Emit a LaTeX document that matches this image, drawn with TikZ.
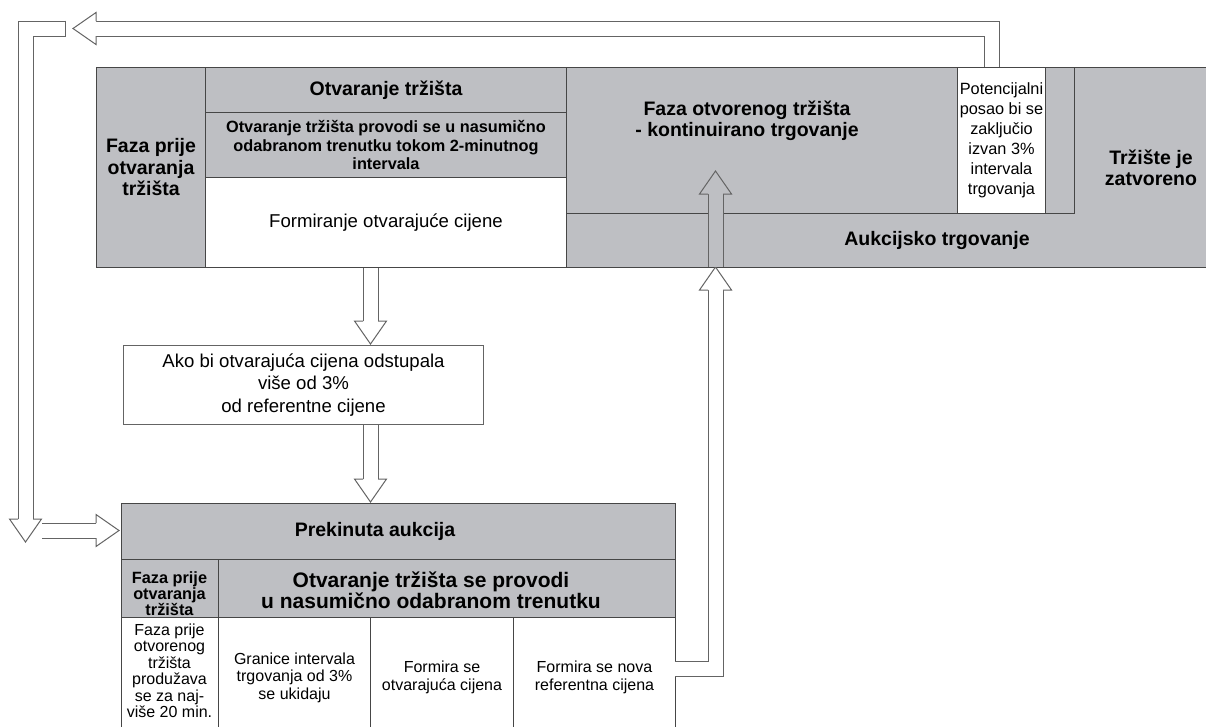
\documentclass[tikz,border=0pt]{standalone}
\usepackage{fontspec}
\setmainfont{Liberation Sans}
\usetikzlibrary{calc}

\definecolor{bandgray}{RGB}{190,191,195}
\definecolor{rule}{RGB}{70,70,70}
\definecolor{arrowgray}{RGB}{100,100,100}

\newcommand{\txtbig}{\fontsize{19.5}{21.5}\selectfont\bfseries}
\newcommand{\txtsub}{\fontsize{16.3}{18.5}\selectfont\bfseries}
\newcommand{\txtreg}{\fontsize{18.6}{22.5}\selectfont}
\newcommand{\txtsmall}{\fontsize{16}{17.5}\selectfont}
\newcommand{\txttight}{\fontsize{16}{16.5}\selectfont}
\newcommand{\txtpot}{\fontsize{16.3}{20}\selectfont}
\newcommand{\txtsmallb}{\fontsize{16.3}{15.5}\selectfont\bfseries}
\newcommand{\txtwide}{\fontsize{21}{18.5}\selectfont\bfseries}

\begin{document}
\begin{tikzpicture}[x=1pt, y=-1pt,
    cell/.style={draw=rule, line width=1pt, fill=bandgray, anchor=north west, inner sep=0pt, align=center},
    whitecell/.style={cell, fill=white},
    txt/.style={align=center, inner sep=0pt},
    shaft/.style={draw=arrowgray, line width=1pt, double=white, double distance=14pt},
    headline/.style={draw=arrowgray, line width=1pt, fill=white},
    head/.pic={\path[pic actions] (-23,7.5) -- (-23,16) -- (0,0) -- (-23,-16) -- (-23,-7.5);}
  ]
  \useasboundingbox[fill=white] (0,0) rectangle (1206,726);

  % upper band
  \node[cell, minimum width=1112, minimum height=200] (band) at (96,67) {};
  \node[cell, minimum width=109, minimum height=200, font=\txtbig] (pre) at (96,67) {Faza prije\\otvaranja\\tržišta};
  \node[cell, minimum width=361, minimum height=45, font=\txtbig] (open) at (205,67) {Otvaranje tržišta};
  \node[cell, minimum width=361, minimum height=65, font=\txtsub] (openrule) at (205,112) {Otvaranje tržišta provodi se u nasumično\\odabranom trenutku tokom 2-minutnog\\intervala};
  \node[whitecell, minimum width=361, minimum height=90, font=\txtreg] (form) at (205,177) {Formiranje otvarajuće cijene};
  \node[cell, minimum width=508, minimum height=146] (cont) at (566,67) {};
  \node[whitecell, minimum width=88, minimum height=146, font=\txtpot] (pot) at (957,67) {Potencijalni\\posao bi se\\zaključio\\izvan 3\%\\intervala\\trgovanja};
  \node[txt, font=\txtbig] (conttext) at (747,121) {Faza otvorenog tržišta\\- kontinuirano trgovanje};
  \node[txt, font=\txtbig] (auction) at (937,240) {Aukcijsko trgovanje};
  \node[txt, font=\txtbig] (closed) at (1151,168) {Tržište je\\zatvoreno};

  % condition
  \node[whitecell, draw=arrowgray, minimum width=360, minimum height=79, font=\txtreg] (ako) at (123,345) {Ako bi otvarajuća cijena odstupala\\više od 3\%\\od referentne cijene};

  % interrupted auction
  \node[cell, minimum width=554, minimum height=56] (halt) at (121,503) {};
  \node[txt, font=\txtbig] (halttext) at (375,531) {Prekinuta aukcija};
  \node[cell, minimum width=97, minimum height=58] (hpre) at (121,559) {};
  \node[txt, font=\txtsmallb] (hpretext) at (169.5,594) {Faza prije\\otvaranja\\tržišta};
  \node[cell, minimum width=457, minimum height=58] (hopen) at (218,559) {};
  \node[txt, font=\txtwide] (hopentext) at (431,590) {Otvaranje tržišta se provodi\\u nasumično odabranom trenutku};
  \node[whitecell, minimum width=97, minimum height=124] (extend) at (121,617) {};
  \node[txt, font=\txttight] (extendtext) at (169.5,671) {Faza prije\\otvorenog\\tržišta\\produžava\\se za naj-\\više 20 min.};
  \node[whitecell, minimum width=152, minimum height=120, font=\txtsmall] (limits) at (218,617) {Granice intervala\\trgovanja od 3\%\\se ukidaju};
  \node[whitecell, minimum width=143, minimum height=120, font=\txtsmall] (price) at (370,617) {Formira se\\otvarajuća cijena};
  \node[whitecell, minimum width=162, minimum height=120, font=\txtsmall] (refprice) at (513,617) {Formira se nova\\referentna cijena};

  % feedback arrows
  \coordinate (fbtip) at (73,28.5);
  \draw[shaft] ([xshift=-10pt]pot.north) |- ($(fbtip)+(23,0)$);
  \pic[headline, rotate=180] at (fbtip) {head};

  \coordinate (wall) at (65,28.5);
  \coordinate (lefttip) at (25.5,542);
  \draw[shaft] (wall) -| ($(lefttip)+(0,-23)$);
  \draw[arrowgray, line width=1pt] ([yshift=8pt]wall) -- ([yshift=-8pt]wall);
  \pic[headline, rotate=-90] at (lefttip) {head};

  \coordinate (instart) at (42,530.5);
  \coordinate (intip) at (119,530.5);
  \draw[shaft] (instart) -- ($(intip)+(-23,0)$);
  \pic[headline] at (intip) {head};

  % downward arrows
  \coordinate (down1) at (370.5,344);
  \draw[shaft] (form.south -| down1) -- ($(down1)+(0,-23)$);
  \pic[headline, rotate=-90] at (down1) {head};

  \coordinate (down2) at (370.5,502);
  \draw[shaft] (ako.south -| down2) -- ($(down2)+(0,-23)$);
  \pic[headline, rotate=-90] at (down2) {head};

  % back to continuous trading
  \coordinate (upstart) at (675,668.5);
  \coordinate (up1) at (715.5,267);
  \draw[shaft] (upstart) -| ($(up1)+(0,23)$);
  \pic[headline, rotate=90] at (up1) {head};

  \coordinate (up2) at (715.5,171);
  \draw[shaft, double=bandgray] (up1) -- ($(up2)+(0,23)$);
  \pic[headline, fill=bandgray, rotate=90] at (up2) {head};
\end{tikzpicture}
\end{document}
